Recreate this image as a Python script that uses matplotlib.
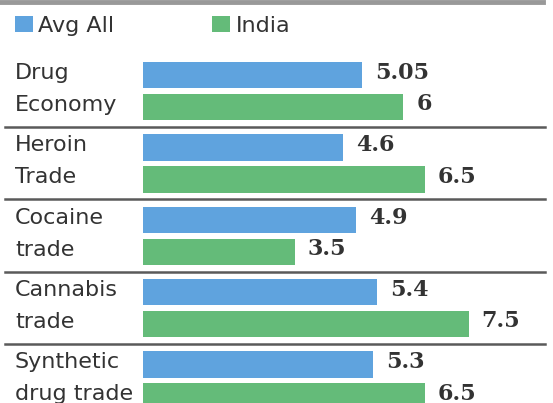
import matplotlib.pyplot as plt
import numpy as np

# data
categories = [("Drug", "Economy"), ("Heroin", "Trade"), ("Cocaine", "trade"),
              ("Cannabis", "trade"), ("Synthetic", "drug trade")]
avg_all = [5.05, 4.6, 4.9, 5.4, 5.3]
india = [6, 6.5, 3.5, 7.5, 6.5]
avg_labels = ["5.05", "4.6", "4.9", "5.4", "5.3"]
india_labels = ["6", "6.5", "3.5", "7.5", "6.5"]

blue = "#5fa3de"
green = "#64bb79"
text_color = "#333333"

fig = plt.figure(figsize=(5.53, 4.03), dpi=100)
ax = fig.add_axes([0, 0, 1, 1])

y = np.arange(len(categories))
offset = 0.442      # distance between the two bars of a group
bar_h = 0.366

b1 = ax.barh(y, avg_all, height=bar_h, color=blue, label="Avg All")
b2 = ax.barh(y + offset, india, height=bar_h, color=green, label="India")

# value labels
for i in range(len(categories)):
    ax.text(avg_all[i] + 0.3, y[i] - 0.03, avg_labels[i], va="center", ha="left",
            fontsize=16, fontweight="bold", family="DejaVu Serif", color=text_color)
    ax.text(india[i] + 0.3, y[i] + offset - 0.04, india_labels[i], va="center", ha="left",
            fontsize=16, fontweight="bold", family="DejaVu Serif", color=text_color)

# category labels, one line next to each bar
for i, (top, bottom) in enumerate(categories):
    ax.text(-2.95, y[i] - 0.03, top, va="center", ha="left", fontsize=16,
            color=text_color)
    ax.text(-2.95, y[i] + offset - 0.03, bottom, va="center", ha="left", fontsize=16,
            color=text_color)

# separators between groups
for i in range(len(categories) - 1):
    ax.axhline(y[i] + 0.718, xmin=5 / 553, xmax=545 / 553, color="#5a5a5a", lw=1.8)
ax.axhline(-1.015, xmin=0, xmax=543 / 553, color="#999999", lw=3.5)

ax.legend(handles=[b1, b2], ncol=2, loc="upper left", bbox_to_anchor=(15 / 553, 1 - 16 / 403),
          frameon=False, fontsize=16, handlelength=0.8, handleheight=0.75,
          handletextpad=0.25, columnspacing=4.4, borderpad=0, borderaxespad=0,
          labelcolor=text_color)

ax.set_xlim(-3.295, 9.447)
ax.set_ylim(4.530, -1.036)
ax.axis("off")

plt.savefig("out.png", dpi=100)
